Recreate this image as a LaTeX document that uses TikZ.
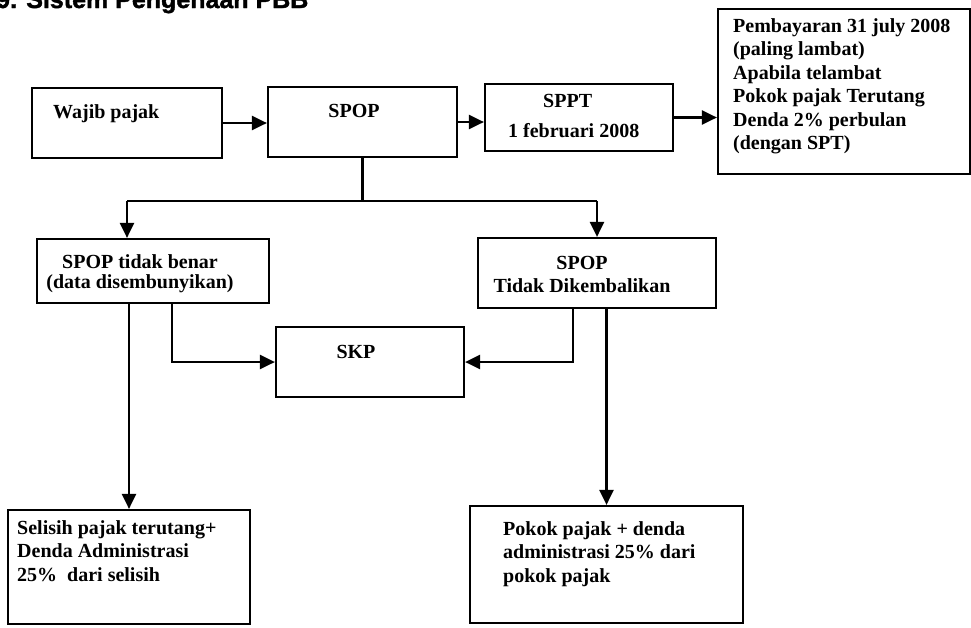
\documentclass[tikz,border=0pt]{standalone}
\usepackage{fontspec}
\setmainfont{Liberation Serif}
\newfontfamily\headsans{Liberation Sans Bold}[FakeBold=1.6]
\usetikzlibrary{arrows.meta}

% several lines set in one block, baseline at the first line
\newcommand\txtlines[2][l]{\begin{tabular}[t]{@{}#1@{}}#2\end{tabular}}

\tikzset{
  box/.style={draw, line width=2.2pt, inner sep=0pt, minimum width=#1},
  label/.style={inner sep=0pt, font=\fontsize{20}{23.5}\selectfont\bfseries},
  arr/.style={line width=2.4pt, -{Triangle[length=15pt,width=14pt]}},
  link/.style={line width=2.4pt},
}

\begin{document}
\begin{tikzpicture}[x=1pt, y=-1pt]
\useasboundingbox (0,0) rectangle (971,627);
\clip (0,0) rectangle (971,627);

% heading
\node[anchor=base west, inner sep=0pt, font=\headsans\fontsize{25}{30}\selectfont]
  (title) at (-4,8) {9. Sistem Pengenaan PBB};

% boxes
\node[box=190pt, minimum height=70pt]  (wp)   at (127,123)   {};
\node[box=189pt, minimum height=70pt]  (spop) at (362.5,122) {};
\node[box=188pt, minimum height=67pt]  (sppt) at (579,117.5) {};
\node[box=252pt, minimum height=165pt] (pemb) at (844,91.5)  {};
\node[box=232pt, minimum height=64pt]  (stb)  at (153,271)   {};
\node[box=238pt, minimum height=70pt]  (std)  at (597,273)   {};
\node[box=188pt, minimum height=70pt]  (skp)  at (370,362)   {};
\node[box=242pt, minimum height=114pt] (sel)  at (129,567)   {};
\node[box=273pt, minimum height=117pt] (pok)  at (606.5,564.5) {};

% box texts
\node[label, anchor=base west] (wp-t) at (53,118) {Wajib pajak};
\node[label, anchor=base] (spop-t) at (354,117) {SPOP};
\node[label, anchor=base west] (sppt-t) at (508,107)
  {\txtlines{\hspace*{35pt}SPPT\\[6.5pt]1 februari 2008}};
\node[label, anchor=base west] (pemb-t) at (733,32)
  {\txtlines{Pembayaran 31 july 2008\\(paling lambat)\\Apabila telambat\\Pokok pajak Terutang\\Denda 2\% perbulan\\(dengan SPT)}};
\node[label, anchor=base] (stb-t) at (140,268)
  {\txtlines[c]{SPOP tidak benar\\[-3.5pt](data disembunyikan)}};
\node[label, anchor=base] (std-t) at (582,269)
  {\txtlines[c]{SPOP\\Tidak Dikembalikan}};
\node[label, anchor=base] (skp-t) at (356,358) {SKP};
\node[label, anchor=base west] (sel-t) at (17,534)
  {\txtlines{Selisih pajak terutang+\\Denda Administrasi\\25\%\ \ dari selisih}};
\node[label, anchor=base west] (pok-t) at (503,535)
  {\txtlines{Pokok pajak + denda\\administrasi 25\% dari\\pokok pajak}};

% branch points
\coordinate (la) at (127,201);
\coordinate (ra) at (597,201);
\coordinate (lk) at (172,0);
\coordinate (rk) at (573,0);

% top row
\draw[arr] (wp.east) -- (wp.east -| spop.west);
\draw[arr] (spop.east) -- (spop.east -| sppt.west);
\draw[arr] (sppt.east) -- (sppt.east -| pemb.west);

% split below SPOP
\draw[link] (spop.south) -- (spop.south |- la);
\draw[link] (la) -- (ra);
\draw[arr] (la) -- (la |- stb.north);
\draw[arr] (ra) -- (ra |- std.north);

% into SKP
\draw[arr] (stb.south -| lk) |- (skp.west);
\draw[arr] (std.south -| rk) |- (skp.east);

% down to the results
\draw[arr] (sel.north |- stb.south) -- (sel.north);
\draw[arr] (pok.north |- std.south) -- (pok.north);
\end{tikzpicture}
\end{document}
